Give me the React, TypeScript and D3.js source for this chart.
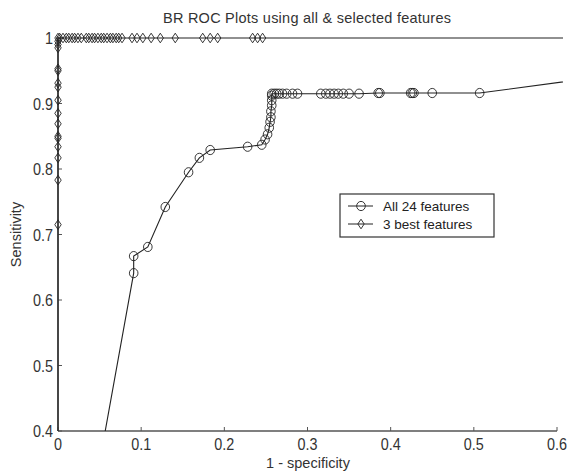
import { useEffect, useRef } from 'react';
import * as d3 from 'd3';

// All 24 features (circles): 1 - specificity / sensitivity
const allX = [0, 0.091, 0.091, 0.108, 0.129, 0.157, 0.170, 0.183, 0.228, 0.245, 0.249, 0.252, 0.254, 0.255, 0.256, 0.256, 0.257, 0.257, 0.257, 0.257, 0.260, 0.263, 0.266, 0.270, 0.275, 0.282, 0.288, 0.316, 0.322, 0.327, 0.332, 0.337, 0.343, 0.350, 0.362, 0.385, 0.387, 0.424, 0.426, 0.428, 0.450, 0.507, 1];
const allY = [0, 0.641, 0.667, 0.681, 0.742, 0.795, 0.817, 0.829, 0.834, 0.837, 0.845, 0.853, 0.863, 0.872, 0.879, 0.888, 0.897, 0.905, 0.912, 0.915, 0.915, 0.915, 0.915, 0.915, 0.915, 0.915, 0.915, 0.915, 0.915, 0.915, 0.915, 0.915, 0.915, 0.915, 0.915, 0.916, 0.916, 0.916, 0.916, 0.916, 0.916, 0.916, 1];

// 3 best features (diamonds)
const bestX = [0, 0, 0, 0, 0, 0, 0, 0, 0, 0, 0, 0, 0, 0, 0, 0, 0, 0,
  0.002, 0.006, 0.010, 0.013, 0.017, 0.020, 0.024, 0.028, 0.034, 0.037, 0.041, 0.044, 0.048, 0.052, 0.055, 0.059, 0.063, 0.066, 0.070, 0.073, 0.077,
  0.089, 0.095, 0.102, 0.112, 0.123, 0.141, 0.174, 0.183, 0.192, 0.234, 0.240, 0.246, 1];
const bestY = [0, 0.715, 0.783, 0.817, 0.834, 0.847, 0.850, 0.869, 0.885, 0.905, 0.925, 0.931, 0.950, 0.953, 0.985, 0.990, 0.995, 1,
  1, 1, 1, 1, 1, 1, 1, 1, 1, 1, 1, 1, 1, 1, 1, 1, 1, 1, 1, 1, 1,
  1, 1, 1, 1, 1, 1, 1, 1, 1, 1, 1, 1, 1];

const xTicks = [0, 0.1, 0.2, 0.3, 0.4, 0.5, 0.6];
const yTicks = [0.4, 0.5, 0.6, 0.7, 0.8, 0.9, 1];
const seriesNames = ['All 24 features', '3 best features'];

const App = () => {
  const svgRef = useRef<SVGSVGElement | null>(null);

  useEffect(() => {
    if (!svgRef.current) return;
    d3.select(svgRef.current).selectAll('*').remove();

    const width = 568;
    const height = 472;
    const m = { left: 58, right: 11, top: 38, bottom: 41 };

    const svg = d3.select(svgRef.current)
      .attr('width', width)
      .attr('height', height)
      .attr('font-family', 'Liberation Sans, Arial, sans-serif');

    const x = d3.scaleLinear().domain([0, 0.6]).range([m.left, width - m.right]);
    const y = d3.scaleLinear().domain([0.4, 1]).range([height - m.bottom, m.top]);

    svg.append('clipPath').attr('id', 'plotclip')
      .append('rect')
      .attr('x', m.left - 6).attr('y', m.top - 6)
      .attr('width', width - m.left - m.right + 12)
      .attr('height', height - m.top - m.bottom + 6);

    const axisColor = '#555';
    // narrow look of the tick labels
    const tickText = (sel: any, label: string) =>
      sel.attr('font-size', 16).attr('fill', '#333')
        .attr('textLength', label.length === 1 ? 8 : 20)
        .attr('lengthAdjust', 'spacingAndGlyphs')
        .text(label);

    // x axis
    const gx = svg.append('g').attr('transform', `translate(0,${height - m.bottom})`);
    gx.append('line').attr('x1', m.left).attr('x2', width - m.right)
      .attr('stroke', axisColor).attr('stroke-width', 1.5);
    xTicks.forEach(t => {
      gx.append('line').attr('x1', x(t)).attr('x2', x(t)).attr('y1', 0).attr('y2', -4)
        .attr('stroke', axisColor);
      tickText(gx.append('text').attr('x', x(t)).attr('y', 19).attr('text-anchor', 'middle'), String(t));
    });

    // y axis
    const gy = svg.append('g').attr('transform', `translate(${m.left},0)`);
    gy.append('line').attr('y1', m.top).attr('y2', height - m.bottom)
      .attr('stroke', axisColor).attr('stroke-width', 1.5);
    yTicks.forEach(t => {
      gy.append('line').attr('x1', 0).attr('x2', 4).attr('y1', y(t)).attr('y2', y(t))
        .attr('stroke', axisColor);
      tickText(gy.append('text').attr('x', -5).attr('y', y(t) + 6).attr('text-anchor', 'end'), String(t));
    });

    // labels
    svg.append('text').attr('x', 307).attr('y', 23).attr('text-anchor', 'middle')
      .attr('font-size', 14.5).attr('fill', '#333')
      .attr('textLength', 288)
      .text('BR ROC Plots using all & selected features');
    svg.append('text').attr('x', 308).attr('y', 468).attr('text-anchor', 'middle')
      .attr('font-size', 14.5).attr('fill', '#333').text('1 - specificity');
    svg.append('text').attr('transform', `translate(21,${(m.top + height - m.bottom) / 2}) rotate(-90)`)
      .attr('text-anchor', 'middle').attr('font-size', 14.5).attr('fill', '#333').text('Sensitivity');

    const plot = svg.append('g').attr('clip-path', 'url(#plotclip)');
    const line = d3.line<[number, number]>().x(d => x(d[0])).y(d => y(d[1]));

    const allPts: [number, number][] = allX.map((v, i) => [v, allY[i]]);
    const bestPts: [number, number][] = bestX.map((v, i) => [v, bestY[i]]);

    const circle = (g: any, cx: number, cy: number) =>
      g.append('ellipse').attr('cx', cx).attr('cy', cy).attr('rx', 4.3).attr('ry', 4.6)
        .attr('fill', 'none').attr('stroke', '#222').attr('stroke-width', 0.9);
    const diamond = (g: any, cx: number, cy: number) =>
      g.append('path').attr('d', `M${cx},${cy - 4.8}L${cx + 3.2},${cy}L${cx},${cy + 4.8}L${cx - 3.2},${cy}Z`)
        .attr('fill', 'none').attr('stroke', '#222').attr('stroke-width', 0.9);

    plot.append('path').datum(bestPts).attr('d', line)
      .attr('fill', 'none').attr('stroke', '#222').attr('stroke-width', 1.2);
    plot.append('path').datum(allPts).attr('d', line)
      .attr('fill', 'none').attr('stroke', '#222').attr('stroke-width', 1.1);

    bestPts.forEach(p => {
      if (p[0] <= 0.6 && p[1] >= 0.4) diamond(plot, x(p[0]), y(p[1]));
    });
    allPts.forEach(p => {
      if (p[0] <= 0.6 && p[1] >= 0.4) circle(plot, x(p[0]), y(p[1]));
    });

    // legend
    const lg = svg.append('g').attr('transform', 'translate(340,194)');
    lg.append('rect').attr('width', 154).attr('height', 43)
      .attr('fill', 'white').attr('stroke', '#333').attr('stroke-width', 1.2);
    seriesNames.forEach((name, i) => {
      const ly = 12 + i * 18;
      lg.append('line').attr('x1', 8).attr('x2', 33).attr('y1', ly).attr('y2', ly)
        .attr('stroke', '#222');
      if (i === 0) circle(lg, 21, ly); else diamond(lg, 21, ly);
      lg.append('text').attr('x', 43).attr('y', ly + 5).attr('font-size', 13.5)
        .attr('fill', '#222').text(name);
    });
  }, []);

  return (
    <svg ref={svgRef} style={{ position: 'absolute', left: 0, top: 0, background: 'white' }}></svg>
  );
};

export default App;
